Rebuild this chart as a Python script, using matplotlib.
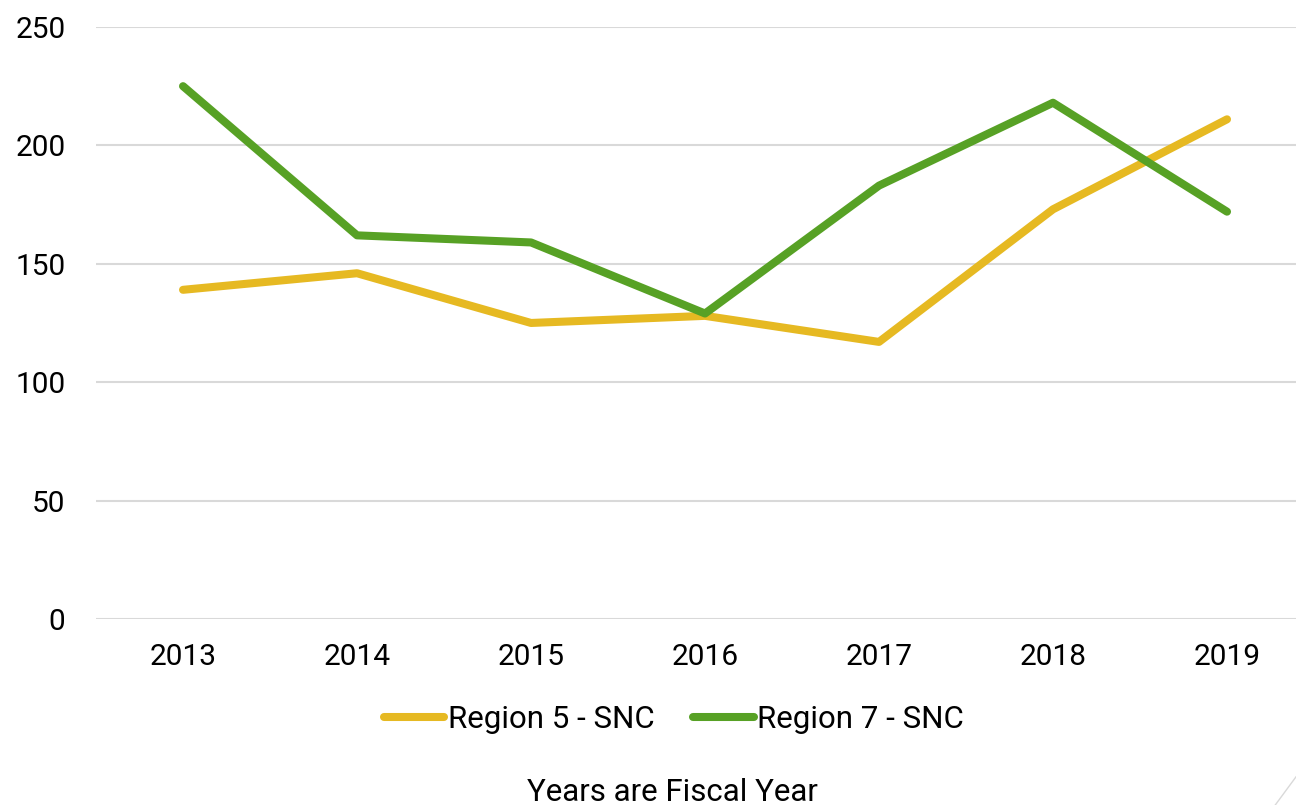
import matplotlib.pyplot as plt
from matplotlib.lines import Line2D

plt.rcParams['font.family'] = ['Roboto', 'DejaVu Sans']

years = ['2013', '2014', '2015', '2016', '2017', '2018', '2019']
region5 = [139, 146, 125, 128, 117, 173, 211]
region7 = [225, 162, 159, 129, 183, 218, 172]
yticks = [0, 50, 100, 150, 200, 250]

fig = plt.figure(figsize=(12.96, 8.05), dpi=100)
ax = fig.add_axes([0.0741, 0.2311, 0.9398, 0.7354])

x = range(len(years))
ax.plot(x, region5, color='#E6B922', lw=5.8, solid_capstyle='round', solid_joinstyle='round', label='Region 5 - SNC')
ax.plot(x, region7, color='#57A125', lw=5.8, solid_capstyle='round', solid_joinstyle='round', label='Region 7 - SNC')

ax.set_xlim(-0.5, len(years) - 0.5)
ax.set_ylim(0, 250)
ax.set_yticks(yticks)
ax.set_xticks(list(x))
ax.set_xticklabels(years)
ax.grid(axis='y', color='#D9D9D9', lw=1.5)
ax.set_axisbelow(True)
for s in ax.spines.values():
    s.set_visible(False)
ax.tick_params(length=0, labelsize=21.5, pad=17)
ax.tick_params(axis='y', pad=22)

fig.legend(loc='center', bbox_to_anchor=(0.52, 0.106), ncol=2, frameon=False,
           fontsize=22.5, handlelength=1.95, handletextpad=0.1, columnspacing=1.25)
fig.text(0.519, 0.016, 'Years are Fiscal Year', ha='center', va='center', fontsize=22.5)

# slide corner mark
fig.add_artist(Line2D([0.984, 1.0], [0.0, 0.035], color='#D9D9D9', lw=1))

fig.savefig('out.png', dpi=100)
